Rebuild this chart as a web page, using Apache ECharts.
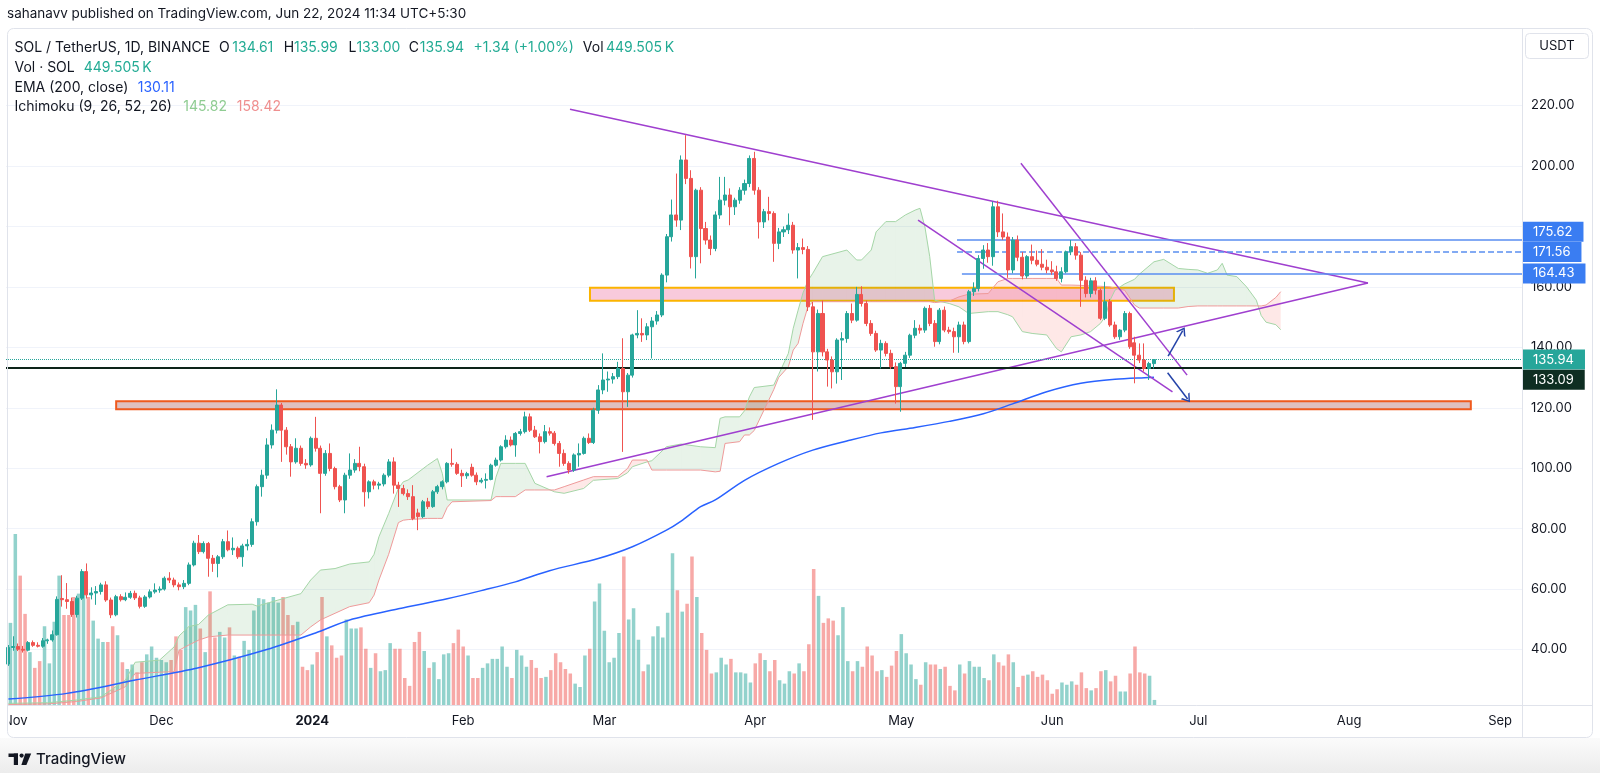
<!DOCTYPE html>
<html>
<head>
<meta charset="utf-8">
<script src="https://cdn.jsdelivr.net/npm/echarts@6/dist/echarts.min.js"></script>
<style>
html,body{margin:0;padding:0;background:#ffffff;}
#chart{width:1600px;height:773px;}
</style>
</head>
<body>
<div id="chart"></div>
<script>
// ---------- DATA ----------
// daily categories: 2023-10-31 .. 2024-09-05 (future days are empty)
const dates = [];
for (let k = 0; k < 311; k++) {
  const d = new Date(Date.UTC(2023, 9, 31 + k));
  dates.push(d.toISOString().slice(0, 10));
}
const monthNames = ['Jan','Feb','Mar','Apr','May','Jun','Jul','Aug','Sep','Oct','Nov','Dec'];

// SOL/USDT daily candles [open, high, low, close], from 2023-10-31
const candles = [
[35.2,41.5,34.6,40.7],[40.7,44.4,39.6,41.0],[41.0,42.0,39.5,40.1],[40.1,41.2,39.0,39.8],[39.8,42.8,39.4,42.3],
[42.3,43.0,40.9,41.4],[41.4,42.4,40.7,41.1],[41.1,43.8,40.6,42.9],[42.9,43.6,41.9,43.2],[43.2,46.3,42.6,44.9],
[44.9,57.6,44.6,56.6],[56.9,64.6,54.2,56.5],[56.5,62.0,53.5,55.9],[55.9,57.2,50.8,51.6],[51.6,57.8,50.6,57.0],
[57.0,66.6,56.4,65.8],[65.8,68.5,56.9,58.1],[58.1,60.6,56.6,58.7],[58.7,61.0,54.8,59.2],[59.2,62.1,58.2,61.4],
[61.4,62.6,55.8,56.4],[56.4,57.2,50.4,51.5],[51.5,58.1,51.0,57.5],[57.5,58.3,55.9,56.5],[56.5,58.9,56.0,57.3],
[57.3,59.4,56.8,58.6],[58.6,59.5,56.4,57.1],[57.1,57.8,53.6,54.3],[54.3,58.0,53.8,57.4],[57.4,59.9,56.9,59.1],
[59.1,61.9,58.5,59.7],[59.7,60.9,58.8,60.0],[60.0,64.2,59.5,63.6],[63.6,65.6,62.0,63.0],[63.0,63.8,60.6,61.4],
[61.4,62.2,59.6,60.8],[60.8,63.0,60.0,61.9],[61.9,68.8,61.3,68.0],[68.0,76.0,67.5,75.2],[75.2,77.9,71.6,72.4],
[72.4,75.8,71.8,75.1],[75.1,75.6,64.1,70.2],[70.2,71.3,65.7,68.5],[68.5,71.3,63.9,70.7],[70.7,76.6,70.0,75.7],
[75.7,79.4,72.5,73.0],[73.0,77.1,71.3,73.5],[73.5,74.1,70.0,70.7],[70.7,75.0,67.4,74.3],[74.3,76.5,72.8,74.8],
[74.8,83.4,74.0,82.3],[82.3,94.6,81.0,93.9],[93.9,99.5,90.6,97.7],[97.7,109.9,96.5,107.7],[107.7,114.5,106.5,112.6],
[112.6,126.1,111.5,120.9],[120.9,121.6,102.1,112.6],[112.6,113.6,104.5,107.1],[107.1,108.0,97.2,102.1],[102.1,109.9,101.5,106.6],
[106.6,107.5,100.8,101.6],[101.6,103.0,99.8,101.1],[101.1,110.5,100.5,109.9],[109.9,117.0,105.5,106.6],[106.6,107.5,85.1,98.3],
[98.3,106.0,97.5,104.9],[104.9,108.2,99.0,99.9],[99.9,100.5,93.0,93.9],[93.9,94.5,88.8,89.5],[89.5,98.5,85.1,97.7],
[97.7,104.9,96.5,99.4],[99.4,103.0,98.5,101.6],[101.6,107.1,99.0,100.5],[100.5,101.5,87.3,92.2],[92.2,96.0,90.0,95.5],
[95.5,96.2,93.0,94.4],[94.4,95.5,93.0,94.8],[94.8,98.3,94.0,97.7],[97.7,103.0,97.0,102.1],[102.1,103.6,91.6,94.4],
[94.4,95.5,87.2,93.3],[93.3,94.5,91.0,91.6],[91.6,93.0,89.5,90.6],[90.6,94.4,82.8,83.4],[85.2,86.6,79.5,84.0],
[84.0,89.5,83.5,88.9],[88.9,90.2,86.5,87.3],[87.3,92.8,86.9,92.2],[92.2,94.5,91.5,93.9],[93.9,96.0,93.0,95.5],
[95.5,102.0,95.0,101.6],[101.6,106.5,100.5,101.3],[101.3,102.0,97.8,98.3],[98.3,99.5,93.8,97.5],[97.5,98.8,96.5,98.2],
[100.3,101.5,97.2,97.7],[97.7,98.6,94.4,95.5],[95.5,96.8,95.0,96.0],[96.0,98.3,93.3,96.3],[96.3,101.5,96.0,101.0],
[101.0,103.5,100.5,102.7],[102.7,107.6,102.2,107.1],[107.1,110.9,106.5,109.3],[109.3,110.5,107.2,107.7],[107.7,112.0,103.8,111.5],
[111.5,113.0,110.8,112.1],[112.1,118.7,111.5,117.0],[117.0,118.1,112.0,112.6],[112.6,114.0,110.0,110.4],[110.4,111.5,104.9,108.8],
[108.8,114.3,108.2,112.1],[112.1,113.5,110.8,111.6],[111.6,112.3,107.5,108.2],[108.2,109.0,100.5,104.9],[104.9,106.2,100.8,101.6],
[101.6,102.3,98.2,99.4],[99.4,104.9,98.8,104.4],[104.4,108.2,100.5,104.9],[104.9,110.5,104.5,109.9],[109.9,111.5,108.0,108.5],
[108.5,120.0,108.0,119.2],[119.2,127.5,118.0,125.9],[125.9,138.0,124.5,129.2],[129.2,132.0,125.3,129.5],[129.5,131.5,128.0,130.3],
[130.3,135.2,129.5,133.0],[133.0,143.0,105.4,125.3],[125.3,131.5,120.3,130.8],[130.8,144.5,130.0,144.1],[144.1,152.3,143.0,144.6],
[144.6,149.6,141.8,144.1],[144.1,148.0,142.4,146.8],[146.8,150.0,136.3,148.7],[148.7,152.0,147.5,150.7],[150.7,164.5,150.0,163.9],
[163.9,177.5,161.5,176.6],[176.6,188.9,175.0,183.8],[183.8,197.5,179.9,182.1],[182.1,203.5,178.8,202.0],[202.0,210.2,194.0,195.9],
[195.9,198.6,166.1,170.0],[170.0,192.5,162.8,192.0],[192.0,193.0,167.8,179.3],[179.3,181.5,174.0,175.5],[175.5,177.0,170.5,172.7],
[172.7,185.0,171.8,183.8],[183.8,196.4,182.5,188.7],[188.7,196.4,187.0,190.4],[190.4,192.6,180.4,186.5],[186.5,189.5,183.8,188.7],
[188.7,193.0,187.5,192.0],[192.0,195.5,190.5,194.2],[194.2,203.5,193.0,202.5],[202.5,204.7,190.5,192.0],[192.0,193.0,176.0,181.5],
[181.5,185.8,179.5,184.9],[184.9,189.8,182.0,184.3],[184.3,185.0,168.3,174.4],[174.4,179.5,172.5,178.2],[178.2,180.0,176.5,178.9],
[178.9,184.3,177.5,180.4],[180.4,181.5,171.0,172.2],[172.2,174.5,162.8,173.0],[173.0,176.0,170.8,172.4],[172.4,173.5,152.0,153.4],
[153.4,155.0,116.0,138.5],[138.5,152.5,132.0,151.2],[151.2,155.5,137.0,138.5],[138.5,139.5,127.0,135.8],[135.8,137.0,126.4,131.9],
[131.9,143.0,128.0,142.4],[142.4,145.0,129.2,142.9],[142.9,152.0,141.5,151.2],[151.2,154.5,148.0,149.0],[149.0,160.0,148.5,157.5],
[157.5,160.2,153.5,154.5],[154.5,155.5,147.0,147.9],[147.9,149.0,143.8,144.6],[144.6,145.5,138.5,139.1],[139.1,142.5,133.0,141.3],
[141.3,142.0,137.0,138.0],[138.0,139.2,132.8,133.6],[133.6,135.0,121.4,127.0],[127.0,135.2,118.7,134.7],[134.7,138.5,133.5,137.4],
[137.4,144.5,136.5,144.0],[144.0,149.0,143.0,146.3],[146.3,147.5,144.5,145.7],[145.7,153.5,144.8,152.9],[152.9,154.0,147.0,147.9],
[147.9,149.0,140.2,141.9],[141.9,153.0,141.0,152.3],[152.3,153.5,145.0,145.7],[145.7,146.8,144.5,145.2],[145.2,146.5,138.2,143.5],
[143.5,148.5,138.2,147.4],[147.4,148.5,141.0,141.9],[141.9,159.0,141.3,158.4],[158.4,161.5,157.0,159.5],[159.5,170.5,158.5,169.4],
[169.4,173.8,166.0,172.2],[172.2,174.5,168.0,170.0],[170.0,188.2,167.0,186.5],[186.5,188.5,176.5,178.2],[178.2,184.3,175.5,176.5],
[176.5,178.0,163.0,165.6],[165.6,176.5,164.5,175.5],[175.5,177.0,168.5,169.8],[169.8,171.5,162.5,163.6],[163.6,170.5,162.8,170.0],
[170.0,174.0,167.5,168.8],[168.8,172.0,166.8,167.5],[167.5,172.5,165.5,166.5],[166.5,169.0,164.5,165.6],[165.6,168.5,164.0,165.0],
[165.0,167.0,162.0,162.8],[162.8,166.5,161.5,165.0],[165.0,172.0,164.5,171.6],[171.6,175.5,170.5,173.3],[173.3,174.5,169.0,170.5],
[170.5,171.5,153.4,162.2],[162.2,163.5,156.5,157.8],[157.8,163.0,156.5,162.0],[162.0,163.2,157.5,158.9],[158.9,159.5,149.0,149.6],
[149.6,161.7,149.0,155.1],[155.1,156.0,146.8,147.4],[147.4,148.5,142.8,143.5],[143.5,146.0,142.5,145.7],[145.7,152.0,145.0,151.2],
[151.2,151.8,139.5,140.2],[141.5,143.5,128.1,137.4],[137.4,141.3,134.8,135.8],[135.8,141.3,132.0,133.0],[133.0,135.2,129.2,134.61],
[134.61,135.99,133.00,135.94]
];

// daily volume, millions of SOL
const volumes = [
7.3,15.2,11.5,8.1,4.7,3.3,3.9,7.0,3.7,7.4,
11.5,8.0,8.0,9.6,9.9,9.9,9.6,7.5,5.9,5.6,
5.6,7.0,6.2,3.8,3.2,3.6,2.9,3.8,4.5,5.2,
4.2,4.0,3.8,4.0,6.1,4.9,8.7,8.4,8.9,6.8,
4.7,10.1,6.0,6.5,6.0,6.9,4.4,4.3,5.7,4.9,
8.4,9.5,9.4,9.1,9.6,9.1,9.6,8.0,7.1,
7.4,3.4,3.1,3.6,4.7,9.6,6.1,5.3,4.2,4.4,7.6,6.8,6.8,6.9,
5.0,3.3,4.6,3.0,3.1,5.5,5.0,5.0,2.4,1.7,
5.6,6.5,4.8,3.3,3.8,2.3,4.5,4.6,5.5,6.7,
5.2,4.4,2.4,2.4,3.3,3.7,4.1,4.1,5.2,3.4,
2.4,4.9,4.4,3.4,4.0,3.3,2.4,2.5,3.1,4.6,
3.8,3.2,2.8,1.9,1.6,4.4,5.0,9.2,10.8,6.6,
3.8,4.2,6.4,13.2,7.6,8.6,5.8,3.0,3.6,6.1,
7.0,6.0,8.2,13.5,10.2,8.3,9.0,13.2,9.6,
6.4,4.9,2.8,2.9,4.2,3.6,4.1,2.9,2.9,2.8,
2.0,3.7,4.6,4.0,3.0,4.0,2.2,1.9,3.0,2.8,
3.7,3.0,5.4,12.1,9.7,7.3,7.7,7.5,6.2,8.7,
3.9,3.0,3.9,3.4,5.2,4.4,3.0,3.1,2.5,3.5,
4.8,6.3,4.6,3.6,2.3,1.8,3.8,3.6,3.6,3.2,
3.4,1.7,1.3,3.6,2.8,3.9,3.4,3.4,2.4,2.2,
4.5,3.8,3.5,4.5,3.8,1.6,2.6,2.7,3.0,2.5,
2.7,2.2,1.0,1.4,2.0,1.8,2.1,1.8,2.9,1.5,
1.3,1.5,3.0,3.1,2.1,2.6,1.2,1.2,2.8,5.2,
2.9,2.8,2.6,0.45
];

// EMA(200) read points [bar index, value]
const emaPoints = [
[0,23.6],[12,25.5],[26,29.9],[39,34.0],[53,40.0],[63,45.5],[70,49.8],[80,53.5],[90,56.8],[97,59.5],
[104,62.4],[111,66.1],[121,70.1],[128,74.0],[135,79.5],[138,82.5],[142,87.3],[145,89.5],[151,96.0],[158,101.6],
[165,106.0],[172,109.0],[179,111.7],[186,113.5],[193,115.5],[200,118.0],[206,121.3],[213,125.3],[220,128.1],
[227,129.4],[234,130.0],[235,130.11]
];

// Ichimoku cloud read points [bar index, leading span A, leading span B]
const cloud = [
[0,22.2,21.8],[8,22.4,22.0],[14,23.3,22.8],[19,24.4,24.0],[24,29.9,27.7],[26,35.8,32.1],[31,36.5,32.5],
[34,40.9,32.7],[35,44.5,39.8],[37,47.6,41.5],[39,48.3,43.1],[41,51.4,44.2],[45,54.8,44.8],[50,55.0,44.8],
[51,54.4,44.8],[53,55.3,44.8],[56,56.7,44.8],[60,58.5,44.8],[62,63.0,47.5],[64,66.3,49.8],[67,66.8,52.0],
[70,68.3,54.2],[74,69.0,55.5],[75,71.5,58.0],[76,77.3,63.0],[78,85.0,71.5],[80,93.3,82.0],[81,95.5,82.8],
[82,96.1,83.0],[86,101.0,83.4],[88,103.2,83.4],[89,98.3,83.4],[90,89.5,87.0],[91,89.5,88.9],[99,89.5,89.3],
[100,97.0,90.6],[101,101.6,90.6],[104,101.6,90.6],[106,101.6,92.8],[108,95.0,92.8],[112,92.2,92.8],
[114,91.7,93.9],[118,93.3,96.1],[120,96.0,97.2],[125,96.6,97.2],[127,98.5,99.9],[128,100.5,102.7],
[131,102.1,102.7],[132,102.5,99.4],[135,107.1,99.4],[138,108.0,99.4],[142,107.1,99.4],[145,106.8,98.8],
[146,116.5,99.0],[147,117.0,108.2],[150,117.0,108.8],[151,119.0,111.0],[152,123.6,111.0],[153,126.7,112.5],
[157,127.5,126.0],[158,131.0,130.0],[160,138.0,133.6],[161,146.3,139.1],[162,152.3,141.3],[163,158.0,147.9],
[164,162.0,153.4],[165,164.5,155.1],[167,170.0,155.1],[172,172.2,155.1],[174,168.9,155.1],[175,168.9,155.1],
[177,172.2,155.1],[178,178.2,155.1],[180,181.6,155.1],[182,181.6,155.1],[184,183.8,155.1],[186,185.4,155.1],
[187,186.0,155.1],[188,179.9,155.1],[189,170.0,155.1],[190,155.6,154.8],[193,154.5,155.3],[195,153.4,156.7],
[197,151.2,157.6],[201,151.8,157.8],[203,151.8,161.7],[205,150.8,162.8],[206,150.1,162.8],[208,145.2,162.8],
[210,144.6,162.8],[213,144.1,162.8],[215,139.6,162.8],[216,138.5,160.6],[218,143.5,160.6],[220,144.1,160.5],
[222,145.2,160.3],[224,147.9,160.2],[225,150.1,160.1],[226,155.6,160.0],[227,158.9,159.5],[229,161.0,158.9],
[231,162.5,154.0],[232,164.2,153.0],[235,168.3,153.0],[237,169.1,153.0],[240,166.1,153.0],[242,165.8,153.5],
[244,165.6,153.7],[246,164.5,153.7],[248,165.6,153.7],[249,167.8,153.7],[250,163.9,153.7],[252,163.4,153.7],
[254,160.0,153.7],[256,155.6,153.7],[257,150.5,153.7],[258,148.3,154.0],[260,147.5,156.5],[261,145.82,158.42]
];

// user drawings, in [bar index, price]
const trendLines = [
[115.2,218.8,278.9,161.3],
[110.4,97.2,278.9,161.3],
[207.7,200.9,241.8,130.8],
[186.6,182.1,238.8,125.3]
];
const arrowLines = [
[237.9,137.1,240.9,145.5],
[237.8,131.6,241.9,122.9]
];
const zoneYellow = [119.3,159.7,239.1,155.4];
const zoneOrange = [22.1,122.2,300.0,119.5];
const rayPrices = [175.62,171.56,164.43];
const rayStart = [194.6,194.6,195.6];
const lastPrice = 135.94;
const blackLevel = 133.09;

// ---------- CHART ----------
const UP = '#26a69a', DOWN = '#ef5350';
const FONT = 'Inter, "Noto Sans", sans-serif';
const chart = echarts.init(document.getElementById('chart'), null, {renderer:'canvas'});

const cloudSegs = cloud.slice(1).map((r, k) => [cloud[k][0], cloud[k][1], cloud[k][2], r[0], r[1], r[2]]);
const splitColors = ['rgba(0,0,0,0)','#f0f3fa','#f0f3fa','#f0f3fa','#f0f3fa','#f0f3fa','#f0f3fa','#f0f3fa','#f0f3fa','#f0f3fa','#f0f3fa','rgba(0,0,0,0)','rgba(0,0,0,0)'];

function tag(text, bg, dy) {
  return {show:true, position:'end', formatter:text, color:'#ffffff', backgroundColor:bg,
    padding:[3,11,2,11], fontSize:13, fontFamily:FONT, lineHeight:15, distance:0, offset:[0,dy]};
}
const rayStyles = ['solid','dashed','solid'];
const rayOffsets = [-8, 0, 0];
const PURPLE = '#9f3fcf';

const last = candles[candles.length - 1];
const TXT = '#131722', VAL = '#22ab94';
// legend tokens: [text, colour, x, y]
const legend = [
  ['SOL / TetherUS, 1D, BINANCE', TXT, 14.5, 48],
  ['O', TXT, 219, 48], [last[0].toFixed(2), VAL, 232.3, 48],
  ['H', TXT, 283.7, 48], [last[1].toFixed(2), VAL, 294, 48],
  ['L', TXT, 348.4, 48], [last[2].toFixed(2), VAL, 356.4, 48],
  ['C', TXT, 408.7, 48], [last[3].toFixed(2), VAL, 419.8, 48],
  ['+1.34 (+1.00%)', VAL, 473.4, 48],
  ['Vol', TXT, 582.8, 48], ['449.505\u2009K', VAL, 606, 48],
  ['Vol · SOL', TXT, 14.5, 67.5], ['449.505\u2009K', VAL, 83.7, 67.5],
  ['EMA (200, close)', TXT, 14.5, 87.5], [emaPoints[emaPoints.length-1][1].toFixed(2), '#2962ff', 137.7, 87.5],
  ['Ichimoku (9, 26, 52, 26)', TXT, 14.5, 107], [cloud[cloud.length-1][1].toFixed(2), '#8fcc92', 183.2, 107],
  [cloud[cloud.length-1][2].toFixed(2), '#ef8f8f', 236.8, 107]
];

const option = {
  animation:false,
  backgroundColor:'#ffffff',
  grid:[
    {left:6, right:78, top:30, bottom:63},
    {left:6, right:78, top:30, bottom:68}
  ],
  xAxis:[
    {type:'category', gridIndex:0, data:dates, show:false, boundaryGap:true},
    {type:'category', gridIndex:1, data:dates, boundaryGap:true,
      axisLine:{show:false}, axisTick:{show:false}, splitLine:{show:false},
      axisLabel:{
        interval:(idx, val) => val.slice(8,10) === '01',
        formatter:(val) => { const m = +val.slice(5,7); return m === 1 ? '{y|' + val.slice(0,4) + '}' : monthNames[m-1]; },
        color:'#131722', fontSize:13, fontFamily:FONT, margin:10,
        rich:{y:{fontWeight:'bold', fontSize:13, fontFamily:FONT, color:'#131722'}}
      }},
    {type:'value', gridIndex:0, min:-0.5, max:310.5, show:false}
  ],
  yAxis:[
    {type:'value', gridIndex:0, position:'right', min:20, max:245, interval:20,
      axisLine:{show:false}, axisTick:{show:false},
      splitLine:{show:true, lineStyle:{color:splitColors, width:1}},
      axisLabel:{color:'#131722', fontSize:13, fontFamily:FONT, margin:9,
        formatter:(v) => (v % 20 === 0 && v > 20 && v < 240 && v !== 180) ? v.toFixed(2) : ''}},
    {type:'value', gridIndex:1, min:0, max:60, show:false}
  ],
  series:[
    {type:'bar', name:'volume', xAxisIndex:1, yAxisIndex:1, barWidth:'72%', z:1,
      data: volumes.map((v, k) => ({value:v, itemStyle:{color: candles[k][3] >= candles[k][0] ? 'rgba(38,166,154,0.5)' : 'rgba(239,83,80,0.5)'}}))},
    {type:'custom', name:'kumo', xAxisIndex:2, yAxisIndex:0, z:2, silent:true,
      encode:{x:[0,3], y:[1,2,4,5]},
      data: cloudSegs,
      renderItem:(params, api) => {
        const x1 = api.value(0), a1 = api.value(1), b1 = api.value(2);
        const x2 = api.value(3), a2 = api.value(4), b2 = api.value(5);
        const P = (x, y) => api.coord([x, y]);
        const G = 'rgba(67,160,71,0.12)', R = 'rgba(244,67,54,0.12)';
        const poly = (pts, c) => ({type:'polygon', shape:{points:pts}, style:{fill:c, stroke:null}});
        const d1 = a1 - b1, d2 = a2 - b2;
        if (d1 * d2 >= 0) {
          return poly([P(x1,a1), P(x2,a2), P(x2,b2), P(x1,b1)], (d1 + d2) >= 0 ? G : R);
        }
        const t = d1 / (d1 - d2);
        const xc = x1 + t * (x2 - x1), yc = a1 + t * (a2 - a1);
        return {type:'group', children:[
          poly([P(x1,a1), P(xc,yc), P(x1,b1)], d1 > 0 ? G : R),
          poly([P(xc,yc), P(x2,a2), P(x2,b2)], d2 > 0 ? G : R)
        ]};
      }},
    {type:'line', name:'spanA', xAxisIndex:2, yAxisIndex:0, z:3, showSymbol:false, silent:true,
      data: cloud.map(r => [r[0], r[1]]), lineStyle:{color:'#a5d6a7', width:1}},
    {type:'line', name:'spanB', xAxisIndex:2, yAxisIndex:0, z:3, showSymbol:false, silent:true,
      data: cloud.map(r => [r[0], r[2]]), lineStyle:{color:'#ef9a9a', width:1}},
    {type:'line', name:'ema', xAxisIndex:2, yAxisIndex:0, z:3, showSymbol:false, silent:true, smooth:0.3,
      data: emaPoints, lineStyle:{color:'#2962ff', width:1.5}},
    {type:'candlestick', name:'SOL', xAxisIndex:0, yAxisIndex:0, z:5, barWidth:'72%',
      data: candles.map(r => [r[0], r[3], r[2], r[1]]),
      itemStyle:{color:UP, color0:DOWN, borderColor:UP, borderColor0:DOWN, borderWidth:1}},
    {type:'line', name:'drawings', xAxisIndex:2, yAxisIndex:0, z:6, data:[], silent:true,
      markArea:{silent:true, data:[
        [{coord:[zoneOrange[0], zoneOrange[1]], itemStyle:{color:'rgba(196,140,140,0.55)', borderColor:'#ef5a1e', borderWidth:2}},
         {coord:[zoneOrange[2], zoneOrange[3]]}],
        [{coord:[zoneYellow[0], zoneYellow[1]], itemStyle:{color:'rgba(242,150,185,0.5)', borderColor:'#fbb400', borderWidth:2}},
         {coord:[zoneYellow[2], zoneYellow[3]]}]
      ]},
      markLine:{silent:true, symbol:['none','none'], animation:false, data:[
        ...trendLines.map(t => [{coord:[t[0], t[1]], lineStyle:{color:PURPLE, width:1.5, type:'solid'}, label:{show:false}}, {coord:[t[2], t[3]]}]),
        ...rayPrices.map((p, k) => [{coord:[rayStart[k], p], lineStyle:{color:'#5a8ef0', width:1.5, type:rayStyles[k]},
            label: tag(p.toFixed(2), '#3a7df2', rayOffsets[k])}, {coord:[310.5, p]}]),
        {yAxis:lastPrice, lineStyle:{color:UP, width:1, type:'dotted'}, label: tag(lastPrice.toFixed(2), UP, 0)},
        {yAxis:blackLevel, lineStyle:{color:'#0d2419', width:2, type:'solid'}, label: tag(blackLevel.toFixed(2), '#0e2e22', 11.5)}
      ]},
      markPoint:{silent:true, data:[{coord:[311.1, 121.0], symbol:'triangle', symbolRotate:-90, symbolSize:[10,7],
        itemStyle:{color:'#131722'}, label:{show:false}}]}
    },
    {type:'line', name:'arrows', xAxisIndex:2, yAxisIndex:0, z:6, data:[], silent:true,
      markLine:{silent:true, animation:false,
        symbol:['none','path://M0,10 L5,0 L10,10 L8.4,10 L5,3.2 L1.6,10 Z'], symbolSize:[11,8],
        data: arrowLines.map(a => [{coord:[a[0], a[1]], lineStyle:{color:'#2443a8', width:1.5, type:'solid'}, label:{show:false}}, {coord:[a[2], a[3]]}])}
    }
  ],
  graphic:[
    {type:'rect', z:0, silent:true, shape:{x:0, y:738, width:1600, height:35},
      style:{fill:new echarts.graphic.LinearGradient(0,0,0,1,[{offset:0,color:'#fbfbfb'},{offset:1,color:'#ececec'}])}},
    {type:'rect', z:100, silent:true, shape:{x:0, y:706, width:9.5, height:31}, style:{fill:'#ffffff'}},
    {type:'rect', z:100, silent:true, shape:{x:7.5, y:28.5, width:1585, height:709, r:6}, style:{fill:null, stroke:'#e0e3eb', lineWidth:1}},
    {type:'line', z:100, silent:true, shape:{x1:1522.5, y1:28.5, x2:1522.5, y2:737.5}, style:{stroke:'#e0e3eb', lineWidth:1}},
    {type:'line', z:100, silent:true, shape:{x1:7.5, y1:705.5, x2:1592.5, y2:705.5}, style:{stroke:'#e0e3eb', lineWidth:1}},
    {type:'rect', z:100, silent:true, shape:{x:1525.5, y:33.5, width:63, height:25, r:4}, style:{fill:'#ffffff', stroke:'#e0e3eb', lineWidth:1}},
    {type:'text', z:101, silent:true, style:{x:1557, y:46.5, text:'USDT', fill:'#131722', font:'13px ' + FONT, align:'center', verticalAlign:'middle'}},
    {type:'text', z:101, silent:true, style:{x:7, y:14, text:'sahanavv published on TradingView.com, Jun 22, 2024 11:34 UTC+5:30', fill:'#131722', font:'13.5px ' + FONT, verticalAlign:'middle'}},
    ...legend.map(t => ({type:'text', z:101, silent:true, style:{x:t[2], y:t[3], text:t[0], fill:t[1], font:'14px ' + FONT, verticalAlign:'middle'}})),
    // TradingView logo
    {type:'rect', z:101, silent:true, shape:{x:8.5, y:753.5, width:9.5, height:3.5}, style:{fill:'#131722'}},
    {type:'rect', z:101, silent:true, shape:{x:13.8, y:753.5, width:4.2, height:11.5}, style:{fill:'#131722'}},
    {type:'circle', z:101, silent:true, shape:{cx:21.6, cy:755.6, r:2.1}, style:{fill:'#131722'}},
    {type:'polygon', z:101, silent:true, shape:{points:[[25.2,753.5],[31.2,753.5],[26.4,765],[21.4,765]]}, style:{fill:'#131722'}},
    {type:'text', z:101, silent:true, style:{x:36, y:759.5, text:'TradingView', fill:'#131722', font:'500 15px ' + FONT, verticalAlign:'middle'}}
  ]
};
chart.setOption(option);
</script>
</body>
</html>
